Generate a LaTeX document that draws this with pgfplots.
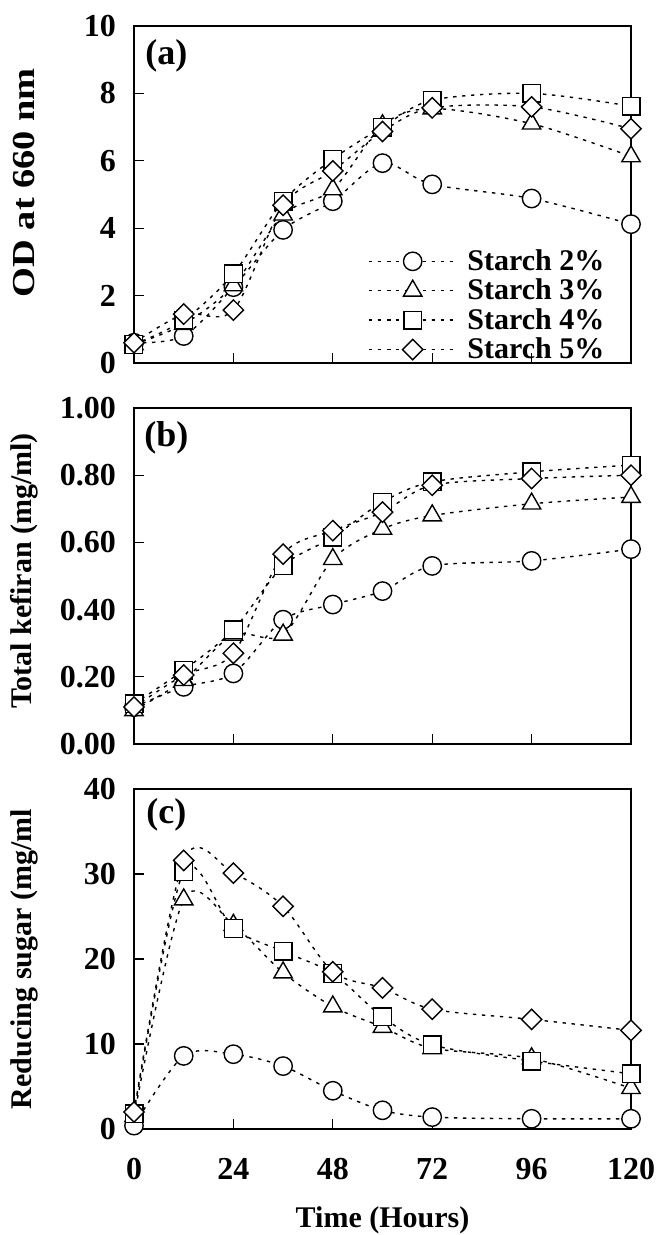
\documentclass[border=0pt]{standalone}
\usepackage{fontspec}
\setmainfont{Liberation Serif}
\usepackage{graphicx}
\usepackage{pgfplots}
\pgfplotsset{compat=1.18}

\pgfplotsset{
  panel/.style={
    scale only axis, width=248.5pt,
    xmin=0, xmax=120, xtick={0,24,...,120},
    tick align=inside, xtick pos=bottom, ytick pos=left,
    major tick length=5pt,
    axis line style={line width=1pt},
    every tick/.style={black, line width=0.6pt},
    tick label style={font=\fontsize{16}{18}\selectfont\bfseries},
    /pgf/number format/assume math mode=true,
    yticklabel style={xshift=-5.5pt},
    xticklabel style={yshift=-11pt},
    label style={font=\fontsize{15}{17}\selectfont\bfseries},
    ylabel style={at={(axis description cs:-0.221,0.5)}, anchor=center},
    clip=false,
    legend image code/.code={\draw[mark repeat=2,mark phase=2,#1] plot coordinates {(0pt,0pt) (22pt,0pt) (44pt,0pt)};},
  },
  ser/.style={smooth, tension=0.5, black, line width=0.7pt, dash pattern=on 1.7pt off 2.8pt},
  s2/.style={ser, mark=*, mark size=4.6pt, mark options={solid, fill=white, line width=0.7pt}},
  s3/.style={ser, mark=triangle*, mark size=5.3pt, mark options={solid, fill=white, line width=0.7pt}},
  s4/.style={ser, mark=square*, mark size=4.4pt, mark options={solid, fill=white, line width=0.7pt}},
  s5/.style={ser, mark=square*, mark size=3.6pt, mark options={solid, fill=white, line width=0.7pt, rotate=45}},
}

\begin{document}
\begin{tikzpicture}
\useasboundingbox (0,0) rectangle (330pt,617.5pt);

% ---------- (a) ----------
\begin{axis}[panel, at={(67pt,436pt)}, anchor=south west, height=168.5pt,
  ymin=0, ymax=10, ytick={0,2,...,10}, xticklabels={},
  ylabel={\fontsize{16}{18}\selectfont\scalebox{1.2}[1]{OD at 660 nm}},
  ylabel style={at={(axis description cs:-0.221,0.535)}},
  legend style={at={(axis description cs:0.47,0.35)}, anchor=north west, draw=none, fill=none,
    font=\fontsize{15}{15}\selectfont\bfseries, row sep=-1.2pt, inner sep=0pt,
    /tikz/every odd column/.append style={column sep=3pt}},
  legend cell align=left]
\addplot[s2] coordinates {(0,0.6) (12,0.8) (24,2.25) (36,3.95) (48,4.8) (60,5.93) (72,5.3) (96,4.88) (120,4.12)};
\addplot[s3] coordinates {(0,0.55) (12,1.15) (24,2.3) (36,4.4) (48,5.15) (60,7.05) (72,7.55) (96,7.1) (120,6.13)};
\addplot[s4] coordinates {(0,0.55) (12,1.27) (24,2.65) (36,4.8) (48,6.05) (60,7.0) (72,7.8) (96,8.0) (120,7.62)};
\addplot[s5] coordinates {(0,0.6) (12,1.45) (24,1.57) (36,4.68) (48,5.7) (60,6.87) (72,7.57) (96,7.6) (120,6.95)};
\legend{Starch 2\%, Starch 3\%, Starch 4\%, Starch 5\%}
\node[font=\fontsize{18}{20}\selectfont\bfseries] at (rel axis cs:0.065,0.91) {(a)};
\end{axis}

% ---------- (b) ----------
\begin{axis}[panel, at={(67pt,245.5pt)}, anchor=south west, height=168pt,
  ymin=0, ymax=1, ytick={0,0.2,...,1.0}, xticklabels={},
  yticklabel style={/pgf/number format/.cd, fixed, fixed zerofill, precision=2},
  ylabel={Total kefiran (mg/ml)},
  ylabel style={at={(axis description cs:-0.221,0.515)}}]
\addplot[s2] coordinates {(0,0.11) (12,0.17) (24,0.21) (36,0.37) (48,0.415) (60,0.455) (72,0.53) (96,0.545) (120,0.58)};
\addplot[s3] coordinates {(0,0.10) (12,0.19) (24,0.325) (36,0.325) (48,0.55) (60,0.64) (72,0.68) (96,0.715) (120,0.735)};
\addplot[s4] coordinates {(0,0.12) (12,0.22) (24,0.34) (36,0.53) (48,0.615) (60,0.72) (72,0.78) (96,0.81) (120,0.83)};
\addplot[s5] coordinates {(0,0.11) (12,0.205) (24,0.27) (36,0.565) (48,0.635) (60,0.69) (72,0.77) (96,0.79) (120,0.80)};
\node[font=\fontsize{18}{20}\selectfont\bfseries] at (rel axis cs:0.065,0.91) {(b)};
\end{axis}

% ---------- (c) ----------
\begin{axis}[panel, at={(67pt,53pt)}, anchor=south west, height=170pt,
  ymin=0, ymax=40, ytick={0,10,...,40},
  ylabel={Reducing sugar (mg/ml},
  xlabel={Time (Hours)},
  xlabel style={at={(axis description cs:0.5,0)}, anchor=center, yshift=-45.5pt}]
\addplot[s2] coordinates {(0,0.4) (12,8.6) (24,8.8) (36,7.4) (48,4.5) (60,2.2) (72,1.4) (96,1.2) (120,1.2)};
\addplot[s3] coordinates {(0,1.5) (12,27.0) (24,24.0) (36,18.4) (48,14.4) (60,12.0) (72,9.5) (96,8.3) (120,4.8)};
\addplot[s4] coordinates {(0,1.8) (12,30.3) (24,23.6) (36,20.9) (48,18.3) (60,13.2) (72,9.9) (96,8.0) (120,6.5)};
\addplot[s5] coordinates {(0,2.0) (12,31.6) (24,30.1) (36,26.2) (48,18.5) (60,16.6) (72,14.1) (96,12.9) (120,11.6)};
\node[font=\fontsize{18}{20}\selectfont\bfseries] at (rel axis cs:0.065,0.925) {(c)};
\end{axis}
\end{tikzpicture}
\end{document}
